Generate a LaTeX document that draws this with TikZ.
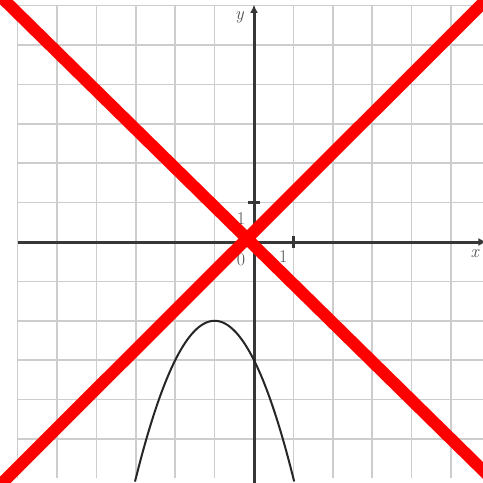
\documentclass[tikz,border=0pt]{standalone}
\usetikzlibrary{arrows.meta}
\definecolor{gridgray}{RGB}{205,205,205}
\definecolor{axisgray}{RGB}{55,55,55}
\definecolor{labelgray}{RGB}{80,80,80}
\tikzset{
  gridline/.style={draw=gridgray,line width=1.6pt},
  axisline/.style={draw=axisgray,line width=3pt},
  tickmark/.style={draw=axisgray,line width=3pt},
  curveline/.style={draw=black!85,line width=2pt},
  lbl/.style={text=labelgray,font=\fontsize{18}{18}\selectfont,inner sep=0pt},
  crossline/.style={draw=red,line width=12pt}
}
\begin{document}
\begin{tikzpicture}[x=1pt,y=-1pt]
\useasboundingbox (0,0) rectangle (483,483);
\clip (0,0) rectangle (483,483);
\fill[white] (0,0) rectangle (483,483);
\begin{scope}[shift={(254,242)},x=39.4pt,y=39.4pt]
  \foreach \i in {-6,...,6} \draw[gridline] (\i,-6) -- (\i,6);
  \foreach \j in {-5,...,6} \draw[gridline] (-6,\j) -- (6.5,\j);
  \coordinate (xs) at (-6,0);
  \coordinate (xe) at (5.9,0);
  \coordinate (ys) at (0,-6.3);
  \coordinate (ye) at (0,6.02);
  \draw[axisline,-{Latex[length=8pt,width=8pt]}] (xs) -- (xe);
  \draw[axisline,-{Latex[length=8pt,width=8pt]}] (ys) -- (ye);
  \coordinate (ty) at (0,1);
  \coordinate (tx) at (1,0);
  \draw[tickmark] ([xshift=-6pt]ty) -- ([xshift=6pt]ty);
  \draw[tickmark] ([yshift=-6pt]tx) -- ([yshift=6pt]tx);
  \draw[curveline] plot[domain=-3.02:1.02,samples=80,smooth] (\x,{-2-(\x+1)*(\x+1)});
  \node[lbl,font=\fontsize{18}{18}\selectfont\itshape] (ylab) at (-0.37,5.7) {y};
  \node[lbl,font=\fontsize{18}{18}\selectfont\itshape] (xlab) at (5.6,-0.3) {x};
  \node[lbl] (one1) at (-0.33,0.6) {1};
  \node[lbl] (zero) at (-0.33,-0.45) {0};
  \node[lbl] (one2) at (0.74,-0.38) {1};
\end{scope}
\coordinate (a1) at (4,0);
\coordinate (a2) at (496,483);
\coordinate (b1) at (486,0);
\coordinate (b2) at (2,483);
\draw[crossline] ([shift={(-10,-10)}]a1) -- ([shift={(10,10)}]a2);
\draw[crossline] ([shift={(10,-10)}]b1) -- ([shift={(-10,10)}]b2);
\end{tikzpicture}
\end{document}
